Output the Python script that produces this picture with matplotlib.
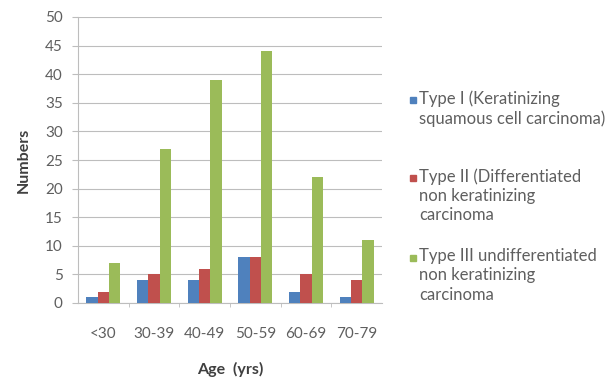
import matplotlib
matplotlib.use('Agg')
import matplotlib.pyplot as plt
from matplotlib.patches import Rectangle
import numpy as np

# ── Data ──
age_groups = ['<30', '30-39', '40-49', '50-59', '60-69', '70-79']
type1 = [1, 4, 4, 8, 2, 1]
type2 = [2, 5, 6, 8, 5, 4]
type3 = [7, 27, 39, 44, 22, 11]
series_labels = ['Type I (Keratinizing\nsquamous cell carcinoma)',
                 'Type II (Differentiated\nnon keratinizing\ncarcinoma',
                 'Type III undifferentiated\nnon keratinizing\ncarcinoma']

# ── Excel 2007 palette ──
BLUE = '#4F81BD'
RED = '#C0504D'
GREEN = '#9BBB59'
TEXT = '#5f5f5f'
GRID = '#BDBDBD'

plt.rcParams['font.family'] = ['Lato', 'DejaVu Sans']

W, H = 608, 378
fig = plt.figure(figsize=(W / 100, H / 100), dpi=100)
ax = fig.add_axes([78 / W, 1 - 303 / H, (382 - 78) / W, (303 - 17) / H])

x = np.arange(len(age_groups))
w = 0.223
bars = []
for off, vals, col, lab in zip([-w, 0, w], [type1, type2, type3],
                               [BLUE, RED, GREEN], series_labels):
    bars.append(ax.bar(x + off, vals, w, color=col, label=lab, zorder=3))

ax.set_xlim(-0.5, len(age_groups) - 0.5)
ax.set_ylim(0, 50)
ax.set_yticks(np.arange(0, 51, 5))
ax.set_xticks(x)
ax.set_xticklabels(age_groups)
ax.set_xticks(np.arange(0.5, len(age_groups) - 0.5, 1), minor=True)

ax.grid(axis='y', color=GRID, linewidth=0.8, zorder=0)
ax.set_axisbelow(True)
for s in ['top', 'right']:
    ax.spines[s].set_visible(False)
ax.spines['left'].set_color(GRID)
ax.spines['bottom'].set_color(GRID)

ax.tick_params(axis='y', length=4, color=GRID, pad=7, labelsize=11, labelcolor=TEXT)
ax.tick_params(axis='x', which='major', length=0, pad=17, labelsize=11, labelcolor=TEXT)
ax.tick_params(axis='x', which='minor', length=3, color=GRID)

ax.set_ylabel('Numbers', fontsize=11.5, fontweight='bold', color='#404040', labelpad=10)
ax.set_xlabel('Age  (yrs)', fontsize=11.5, fontweight='bold', color='#404040', labelpad=15)

# legend drawn by hand so the key square sits on the first line of each label
first_line_y = [100, 178, 258]
for b, lab, yc in zip(bars, series_labels, first_line_y):
    fig.patches.append(Rectangle((410 / W, 1 - (yc + 3) / H), 6 / W, 6 / H,
                                 transform=fig.transFigure,
                                 color=b.patches[0].get_facecolor()))
    fig.text(419 / W, 1 - (yc - 10) / H, lab, fontsize=12, color=TEXT,
             va='top', ha='left', linespacing=1.25)

plt.savefig('out.png', dpi=100)
plt.close()
